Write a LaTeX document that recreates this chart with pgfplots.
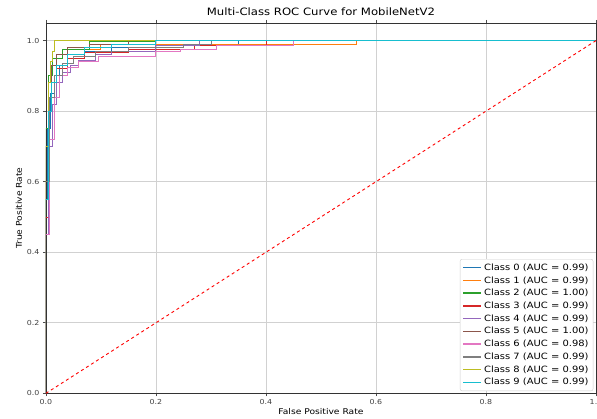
\documentclass[border=0pt]{standalone}
\usepackage{fontspec}
\setmainfont{DejaVu Sans}[FakeStretch=1.15]
\usepackage{pgfplots}
\pgfplotsset{compat=1.18}
\definecolor{c0}{HTML}{1F77B4}
\definecolor{c1}{HTML}{FF7F0E}
\definecolor{c2}{HTML}{2CA02C}
\definecolor{c3}{HTML}{D62728}
\definecolor{c4}{HTML}{9467BD}
\definecolor{c5}{HTML}{8C564B}
\definecolor{c6}{HTML}{E377C2}
\definecolor{c7}{HTML}{7F7F7F}
\definecolor{c8}{HTML}{BCBD22}
\definecolor{c9}{HTML}{17BECF}
\begin{document}
\begin{tikzpicture}
\begin{axis}[
  scale only axis, width=551bp, height=371bp,
  xmin=0, xmax=1, ymin=0, ymax=1.05,
  xtick={0,0.2,0.4,0.6,0.8,1.0}, ytick={0,0.2,0.4,0.6,0.8,1.0},
  xticklabel style={/pgf/number format/.cd,fixed,fixed zerofill,precision=1},
  yticklabel style={/pgf/number format/.cd,fixed,fixed zerofill,precision=1},
  /pgf/number format/assume math mode=true,
  tick label style={font=\fontsize{6.9}{8}\selectfont, text=black!75},
  label style={font=\fontsize{8}{9}\selectfont},
  title style={font=\fontsize{10.2}{12}\selectfont, yshift=-2bp},
  title={Multi-Class ROC Curve for MobileNetV2},
  xlabel={False Positive Rate}, ylabel={True Positive Rate},
  xlabel style={yshift=3bp}, ylabel style={yshift=-2bp},
  tick align=outside, major tick length=3bp,
  tick style={black!70, line width=0.6pt},
  axis line style={black!80, line width=0.7pt},
  grid=major, major grid style={black!18, line width=0.6pt},
  legend image code/.code={\draw[#1, line width=1.5pt] plot coordinates {(0bp,0bp)(9bp,0bp)(18bp,0bp)};},
  legend image post style={sharp plot},
  legend style={at={(0.995,0.006)}, anchor=south east,
    font=\fontsize{8.7}{10}\selectfont, draw=black!20, rounded corners=2pt,
    fill=white, row sep=0.7bp, inner sep=2.5pt},
  legend cell align=left,
]
\addplot[c0, line width=0.9pt, const plot] coordinates {(0,0)(0,0.55)(0.003,0.75)(0.008,0.85)(0.015,0.9)(0.025,0.93)(0.04,0.95)(0.07,0.97)(0.12,0.98)(0.2,0.99)(0.35,1)(1,1)};
\addlegendentry{Class 0 (AUC = 0.99)}
\addplot[c1, line width=0.9pt, const plot] coordinates {(0,0)(0,0.6)(0.005,0.88)(0.01,0.93)(0.02,0.96)(0.04,0.975)(0.1,0.988)(0.565,0.988)(0.565,1)(1,1)};
\addlegendentry{Class 1 (AUC = 0.99)}
\addplot[c2, line width=0.9pt, const plot] coordinates {(0,0)(0,0.75)(0.005,0.9)(0.012,0.95)(0.03,0.975)(0.08,0.997)(0.2,1)(1,1)};
\addlegendentry{Class 2 (AUC = 1.00)}
\addplot[c3, line width=0.9pt, const plot] coordinates {(0,0)(0,0.5)(0.005,0.8)(0.01,0.88)(0.02,0.92)(0.04,0.95)(0.07,0.965)(0.15,0.975)(0.27,0.985)(0.4,0.985)(0.4,1)(1,1)};
\addlegendentry{Class 3 (AUC = 0.99)}
\addplot[c4, line width=0.9pt, const plot] coordinates {(0,0)(0,0.45)(0.005,0.7)(0.012,0.82)(0.02,0.88)(0.03,0.91)(0.045,0.93)(0.06,0.945)(0.09,0.96)(0.12,0.97)(0.2,0.985)(0.28,1)(1,1)};
\addlegendentry{Class 4 (AUC = 0.99)}
\addplot[c5, line width=0.9pt, const plot] coordinates {(0,0)(0,0.7)(0.005,0.88)(0.01,0.93)(0.02,0.96)(0.04,0.98)(0.08,0.99)(0.15,1)(1,1)};
\addlegendentry{Class 5 (AUC = 1.00)}
\addplot[c6, line width=0.9pt, const plot] coordinates {(0,0)(0,0.45)(0.007,0.72)(0.015,0.84)(0.025,0.9)(0.04,0.925)(0.06,0.94)(0.095,0.955)(0.2,0.97)(0.245,0.975)(0.31,0.985)(0.45,0.99)(0.45,1)(1,1)};
\addlegendentry{Class 6 (AUC = 0.98)}
\addplot[c7, line width=0.9pt, const plot] coordinates {(0,0)(0,0.6)(0.006,0.84)(0.015,0.9)(0.03,0.935)(0.05,0.955)(0.09,0.97)(0.15,0.98)(0.25,0.99)(0.3,1)(1,1)};
\addlegendentry{Class 7 (AUC = 0.99)}
\addplot[c8, line width=0.9pt, const plot] coordinates {(0,0)(0,0.7)(0.004,0.88)(0.008,0.94)(0.012,0.97)(0.016,1)(1,1)};
\addlegendentry{Class 8 (AUC = 0.99)}
\addplot[c9, line width=0.9pt, const plot] coordinates {(0,0)(0,0.55)(0.005,0.8)(0.01,0.88)(0.02,0.93)(0.04,0.96)(0.07,0.98)(0.12,0.99)(0.2,1)(1,1)};
\addlegendentry{Class 9 (AUC = 0.99)}
\addplot[red, dashed, line width=0.9pt, forget plot] coordinates {(0,0)(1,1)};
\coordinate (ll) at (rel axis cs:0,0);
\coordinate (ur) at (rel axis cs:1,1);
\end{axis}
\pgfresetboundingbox
\path ([xshift=-46bp,yshift=-25bp]ll) rectangle ([xshift=1bp,yshift=23bp]ur);
\end{tikzpicture}
\end{document}
